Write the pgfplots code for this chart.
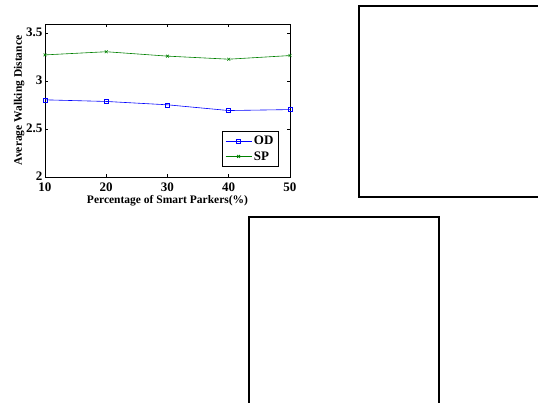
\documentclass[border=0pt]{standalone}
\usepackage{pgfplots}
\pgfplotsset{compat=1.18}
\usepackage{fontspec}
\setmainfont{Liberation Serif}
\definecolor{mgreen}{rgb}{0,0.5,0}
\begin{document}
\begin{tikzpicture}[x=1pt,y=1pt]
\useasboundingbox (0,0) rectangle (538,402);
\clip (0,0) rectangle (538,402);
\begin{axis}[
  at={(45pt,225pt)}, anchor=south west,
  width=245pt, height=153pt, scale only axis,
  xmin=10, xmax=50, ymin=2, ymax=3.6,
  xtick={10,20,30,40,50}, ytick={2,2.5,3,3.5},
  tick align=inside, major tick length=3pt,
  axis line style={line width=0.6pt},
  tick style={line width=0.5pt, black},
  /pgf/number format/assume math mode=true,
  tick label style={font=\fontsize{13}{13}\selectfont\bfseries},
  xticklabel style={yshift=-2pt},
  yticklabel style={xshift=1pt, yshift=1pt},
  xlabel={Percentage of Smart Parkers(\%)},
  ylabel={Average Walking Distance},
  label style={font=\fontsize{11.5}{11.5}\selectfont\bfseries},
  xlabel style={yshift=3pt},
  ylabel style={yshift=-5pt},
  legend style={at={(1,0)}, anchor=south east, xshift=-11pt, yshift=10pt,
    font=\fontsize{13}{13}\selectfont\bfseries, draw=black, line width=1pt,
    inner xsep=3pt, inner ysep=3pt, row sep=1pt, cells={anchor=west}},
  legend cell align=left,
  legend image code/.code={\draw[mark repeat=2,mark phase=2,line width=0.8pt] plot coordinates {(0pt,0pt) (13pt,0pt) (26pt,0pt)};},
]
\addplot[blue, line width=0.6pt, mark=square, mark size=2pt, mark options={solid}] coordinates {
(10,2.807) (20,2.79) (30,2.755) (40,2.695) (50,2.705)};
\addlegendentry{OD}
\addplot[mgreen, line width=0.6pt, mark=x, mark size=2pt] coordinates {
(10,3.277) (20,3.31) (30,3.264) (40,3.232) (50,3.27)};
\addlegendentry{SP}
\end{axis}
\begin{axis}[
  at={(359pt,205pt)}, anchor=south west,
  width=200pt, height=191pt, scale only axis,
  xmin=0, xmax=1, ymin=0, ymax=1,
  xtick=\empty, ytick=\empty,
  axis line style={line width=1.5pt},
]
\end{axis}
\begin{axis}[
  at={(249pt,-10pt)}, anchor=south west,
  width=190pt, height=195pt, scale only axis,
  xmin=0, xmax=1, ymin=0, ymax=1,
  xtick=\empty, ytick=\empty,
  axis line style={line width=1.5pt},
]
\end{axis}
\end{tikzpicture}
\end{document}
